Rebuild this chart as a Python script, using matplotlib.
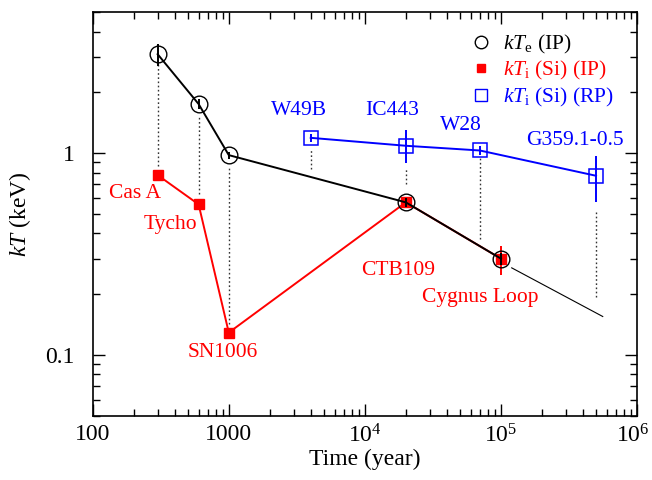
import matplotlib
matplotlib.use("Agg")
import matplotlib.pyplot as plt
from matplotlib.ticker import FixedLocator, FixedFormatter, LogLocator, NullFormatter
from matplotlib.lines import Line2D
from matplotlib.transforms import ScaledTranslation

plt.rcParams['font.family'] = ['Liberation Serif', 'DejaVu Serif']
plt.rcParams['mathtext.fontset'] = 'custom'
plt.rcParams['mathtext.rm'] = 'Liberation Serif'
plt.rcParams['mathtext.it'] = 'Liberation Serif:italic'
plt.rcParams['mathtext.bf'] = 'Liberation Serif:bold'

# ---- data ----
ip_names = ["Cas A", "Tycho", "SN1006", "CTB109", "Cygnus Loop"]
ip_age = [300, 600, 1000, 2e4, 1e5]
kte = [3.09, 1.75, 0.977, 0.57, 0.30]
kte_err = [0.4, 0.1, 0.04, 0.03, 0.02]
kti_ip = [0.778, 0.557, 0.129, 0.57, 0.30]
kti_ip_err_lo = [0.0, 0.0, 0.0, 0.03, 0.05]
kti_ip_err_hi = [0.0, 0.0, 0.0, 0.03, 0.048]

rp_names = ["W49B", "IC443", "W28", "G359.1-0.5"]
rp_age = [4000, 2e4, 7e4, 5e5]
kti_rp = [1.19, 1.087, 1.03, 0.772]
kti_rp_err_lo = [0.05, 0.19, 0.05, 0.20]
kti_rp_err_hi = [0.05, 0.22, 0.05, 0.20]

dot_x = [300, 600, 1000, 4000, 2e4, 7e4, 5e5]
dot_top = [2.8, 1.53, 0.849, 1.03, 0.833, 0.97, 0.508]
dot_bot = [0.865, 0.627, 0.142, 0.833, 0.702, 0.375, 0.193]

extrap_x = [1.2e5, 5.6e5]
extrap_y = [0.27, 0.155]

xtick_vals = [100, 1000, 1e4, 1e5, 1e6]
xtick_labels = ["100", "1000", "$10^{4}$", "$10^{5}$", "$10^{6}$"]
ytick_vals = [0.1, 1]
ytick_labels = ["0.1", "1"]

# label positions (x, y in data coords)
ip_label_pos = [(204, 0.629), (371, 0.441), (905, 0.1026), (17460, 0.261), (70000, 0.192)]
rp_label_pos = [(3275, 1.62), (15800, 1.62), (50700, 1.364), (348000, 1.149)]

RED = '#ff0000'
BLUE = '#0000ff'

fig = plt.figure(figsize=(6.52, 4.8), dpi=100)
ax = fig.add_axes([0.1422, 0.134, 0.977 - 0.1422, 0.975 - 0.134])
ax.set_xscale('log')
ax.set_yscale('log')
ax.set_xlim(100, 1e6)
ax.set_ylim(0.05, 5)

# dotted verticals
for x, t, b in zip(dot_x, dot_top, dot_bot):
    ax.plot([x, x], [b, t], ls=(0, (1.2, 1.8)), color='#333333', lw=1.0, zorder=1)

# red IP kTi
ax.errorbar(ip_age, kti_ip, yerr=[kti_ip_err_lo, kti_ip_err_hi], color=RED, lw=1.4,
            marker='s', ms=7, mfc=RED, mec=RED, capsize=0, zorder=2)

# black kTe
ax.errorbar(ip_age, kte, yerr=kte_err, color='black', lw=1.4, marker='o', ms=12,
            mfc='none', mec='black', mew=1.0, capsize=0, zorder=3)
ax.plot(extrap_x, extrap_y, color='black', lw=0.8, zorder=3)

# blue RP kTi
ax.errorbar(rp_age, kti_rp, yerr=[kti_rp_err_lo, kti_rp_err_hi], color=BLUE, lw=1.4,
            marker='s', ms=10, mfc='none', mec=BLUE, mew=1.1, capsize=0, zorder=2)

for name, (x, y) in zip(ip_names, ip_label_pos):
    ax.text(x, y, name, color=RED, fontsize=15.5, ha='center', va='center')
for name, (x, y) in zip(rp_names, rp_label_pos):
    ax.text(x, y, name, color=BLUE, fontsize=15.5, ha='center', va='center')

# legend
handles = [
    Line2D([], [], ls='none', marker='o', ms=9, mfc='none', mec='black', mew=1.0),
    Line2D([], [], ls='none', marker='s', ms=5.5, mfc=RED, mec=RED),
    Line2D([], [], ls='none', marker='s', ms=8, mfc='none', mec=BLUE, mew=1.0),
]
labels = [r"$kT_\mathrm{e}$ (IP)", r"$kT_\mathrm{i}$ (Si) (IP)", r"$kT_\mathrm{i}$ (Si) (RP)"]
leg = ax.legend(handles, labels, loc='upper right', frameon=False, fontsize=15.5,
                handlelength=1.0, handletextpad=0.5, labelspacing=0.15,
                borderaxespad=0.3, bbox_to_anchor=(0.985, 0.985))
for txt, c in zip(leg.get_texts(), ['black', RED, BLUE]):
    txt.set_color(c)

# ticks
ax.xaxis.set_major_locator(FixedLocator(xtick_vals))
ax.xaxis.set_major_formatter(FixedFormatter(xtick_labels))
ax.xaxis.set_minor_locator(LogLocator(base=10, subs=range(2, 10), numticks=20))
ax.xaxis.set_minor_formatter(NullFormatter())
ax.yaxis.set_major_locator(FixedLocator(ytick_vals))
ax.yaxis.set_major_formatter(FixedFormatter(ytick_labels))
ax.yaxis.set_minor_locator(LogLocator(base=10, subs=range(2, 10), numticks=20))
ax.yaxis.set_minor_formatter(NullFormatter())

ax.tick_params(which='both', direction='in', top=True, right=True, width=1.0, labelsize=17)
ax.tick_params(which='major', length=8.4)
ax.tick_params(which='minor', length=4.8)
ax.tick_params(axis='x', which='major', pad=6)
ax.tick_params(axis='y', which='major', pad=13)
for s in ax.spines.values():
    s.set_linewidth(1.2)

ax.set_xlabel("Time (year)", fontsize=17, labelpad=1)
ax.set_ylabel(r"$kT$ (keV)", fontsize=17, labelpad=9)

# nudge the last x tick label left so it stays inside the figure
fig.canvas.draw()
last = ax.get_xticklabels()[-1]
last.set_transform(last.get_transform() + ScaledTranslation(-4 / 100, 0, fig.dpi_scale_trans))

fig.savefig("out.png", dpi=100)
